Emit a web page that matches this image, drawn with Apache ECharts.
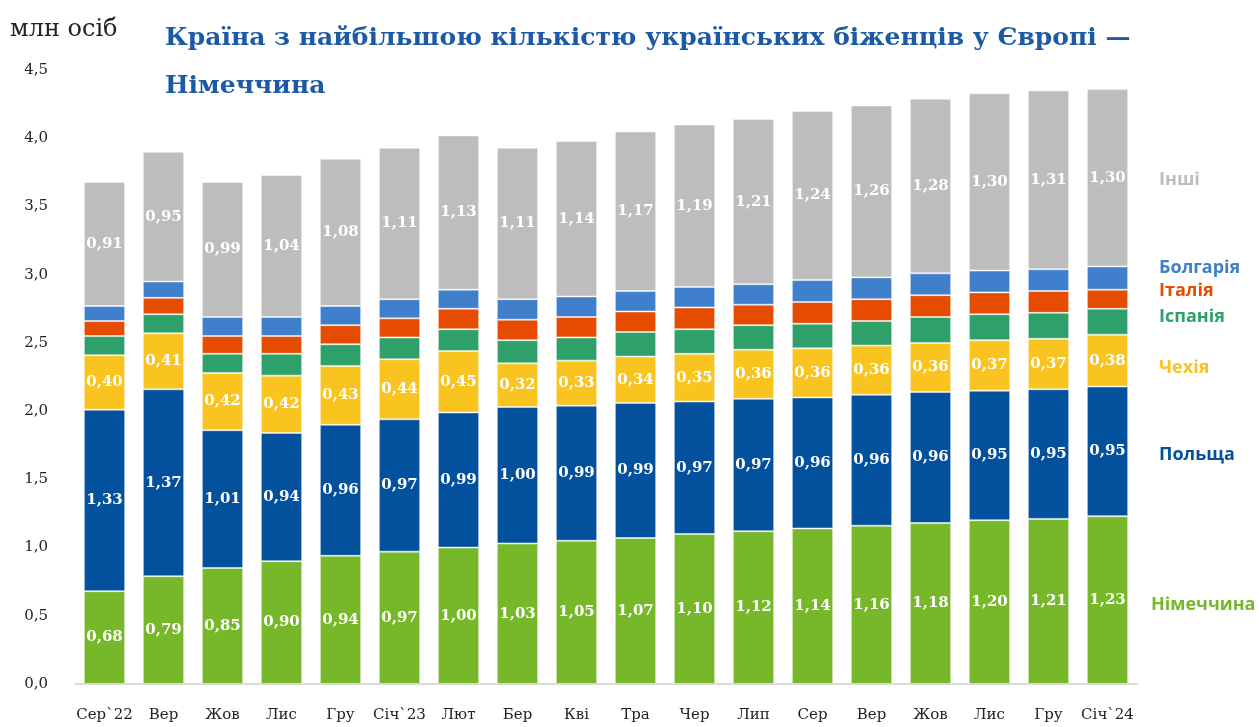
<!DOCTYPE html>
<html>
<head>
<meta charset="utf-8">
<script src="https://cdn.jsdelivr.net/npm/echarts@6/dist/echarts.min.js"></script>
<style>
  html, body { margin: 0; padding: 0; background: #fff; }
  #chart { width: 1259px; height: 727px; }
</style>
</head>
<body>
<div id="chart"></div>
<script>
const months = ['Сер`22', 'Вер', 'Жов', 'Лис', 'Гру', 'Січ`23', 'Лют', 'Бер', 'Кві', 'Тра',
  'Чер', 'Лип', 'Сер', 'Вер', 'Жов', 'Лис', 'Гру', 'Січ`24'];

const germany = [0.68, 0.79, 0.85, 0.90, 0.94, 0.97, 1.00, 1.03, 1.05, 1.07, 1.10, 1.12, 1.14, 1.16, 1.18, 1.20, 1.21, 1.23];
const poland = [1.33, 1.37, 1.01, 0.94, 0.96, 0.97, 0.99, 1.00, 0.99, 0.99, 0.97, 0.97, 0.96, 0.96, 0.96, 0.95, 0.95, 0.95];
const czechia = [0.40, 0.41, 0.42, 0.42, 0.43, 0.44, 0.45, 0.32, 0.33, 0.34, 0.35, 0.36, 0.36, 0.36, 0.36, 0.37, 0.37, 0.38];
const spain = [0.14, 0.14, 0.14, 0.16, 0.16, 0.16, 0.16, 0.17, 0.17, 0.18, 0.18, 0.18, 0.18, 0.18, 0.19, 0.19, 0.19, 0.19];
const italy = [0.11, 0.12, 0.13, 0.13, 0.14, 0.14, 0.15, 0.15, 0.15, 0.15, 0.16, 0.15, 0.16, 0.16, 0.16, 0.16, 0.16, 0.14];
const bulgaria = [0.11, 0.12, 0.14, 0.14, 0.14, 0.14, 0.14, 0.15, 0.15, 0.15, 0.15, 0.15, 0.16, 0.16, 0.16, 0.16, 0.16, 0.17];
const others = [0.91, 0.95, 0.99, 1.04, 1.08, 1.11, 1.13, 1.11, 1.14, 1.17, 1.19, 1.21, 1.24, 1.26, 1.28, 1.30, 1.31, 1.30];

const serif = '"DejaVu Serif", serif';
const sans = '"Open Sans", "Noto Sans", sans-serif';

const chart = echarts.init(document.getElementById('chart'));

function fmt(v) {
  return v.toFixed(2).replace('.', ',');
}

// name, values, colour, show value labels, side label nudge [dx, dy]
const seriesDefs = [
  ['Німеччина', germany, '#76b82a', true, [-8, 5]],
  ['Польща', poland, '#03519c', true, [0, 4]],
  ['Чехія', czechia, '#f9c320', true, [0, 7]],
  ['Іспанія', spain, '#2ea06a', false, [0, -5]],
  ['Італія', italy, '#e64c00', false, [0, -8]],
  ['Болгарія', bulgaria, '#3f7fcc', false, [0, -10]],
  ['Інші', others, '#bdbdbd', true, [0, 2]]
];

const option = {
  animation: false,
  title: {
    text: 'Країна з найбільшою кількістю українських біженців у Європі —\nНімеччина',
    left: 160,
    top: 9,
    textStyle: {
      fontFamily: serif,
      fontWeight: 'bold',
      fontSize: 25,
      color: '#1c5aa6',
      lineHeight: 48
    }
  },
  grid: { left: 75, right: 122, top: 70, bottom: 43 },
  xAxis: {
    type: 'category',
    data: months,
    axisTick: { show: false },
    axisLine: { lineStyle: { color: '#d9d9d9', width: 2 } },
    axisLabel: { color: '#222', fontFamily: serif, fontSize: 15, margin: 24, interval: 0 }
  },
  yAxis: {
    type: 'value',
    min: 0,
    max: 4.5,
    interval: 0.5,
    splitLine: { show: false },
    axisLabel: {
      color: '#222',
      fontFamily: serif,
      fontSize: 15,
      margin: 27,
      formatter: (v) => v.toFixed(1).replace('.', ',')
    }
  },
  series: seriesDefs.map(([name, data, color, showValues]) => ({
    name: name,
    type: 'bar',
    stack: 'total',
    barWidth: '70%',
    itemStyle: { color: color, borderColor: 'rgba(255,255,255,0.45)', borderWidth: 1 },
    label: {
      show: showValues,
      position: 'inside',
      color: '#fff',
      fontFamily: serif,
      fontWeight: 'bold',
      fontSize: 15,
      formatter: (p) => fmt(p.value)
    },
    data: data
  }))
};

chart.setOption(option);

// series names to the right of the last bar, beside their segments
const last = months.length - 1;
let base = 0;
const graphics = [{
  type: 'text',
  left: 10,
  top: 18,
  style: { text: 'млн осіб', fontFamily: serif, fontSize: 24, fill: '#222' }
}];
const barRight = chart.convertToPixel({ gridIndex: 0 }, [last, 0])[0] + 20.5;
seriesDefs.forEach(([name, data, color, , nudge]) => {
  const mid = base + data[last] / 2;
  base += data[last];
  const y = chart.convertToPixel({ gridIndex: 0 }, [last, mid])[1];
  graphics.push({
    type: 'text',
    x: barRight + 31 + nudge[0],
    y: y + nudge[1],
    style: {
      text: name,
      fontFamily: sans,
      fontWeight: 'bold',
      fontSize: 18,
      fill: color,
      verticalAlign: 'middle'
    }
  });
});
chart.setOption({ graphic: graphics });

window.addEventListener('resize', () => chart.resize());
</script>
</body>
</html>
